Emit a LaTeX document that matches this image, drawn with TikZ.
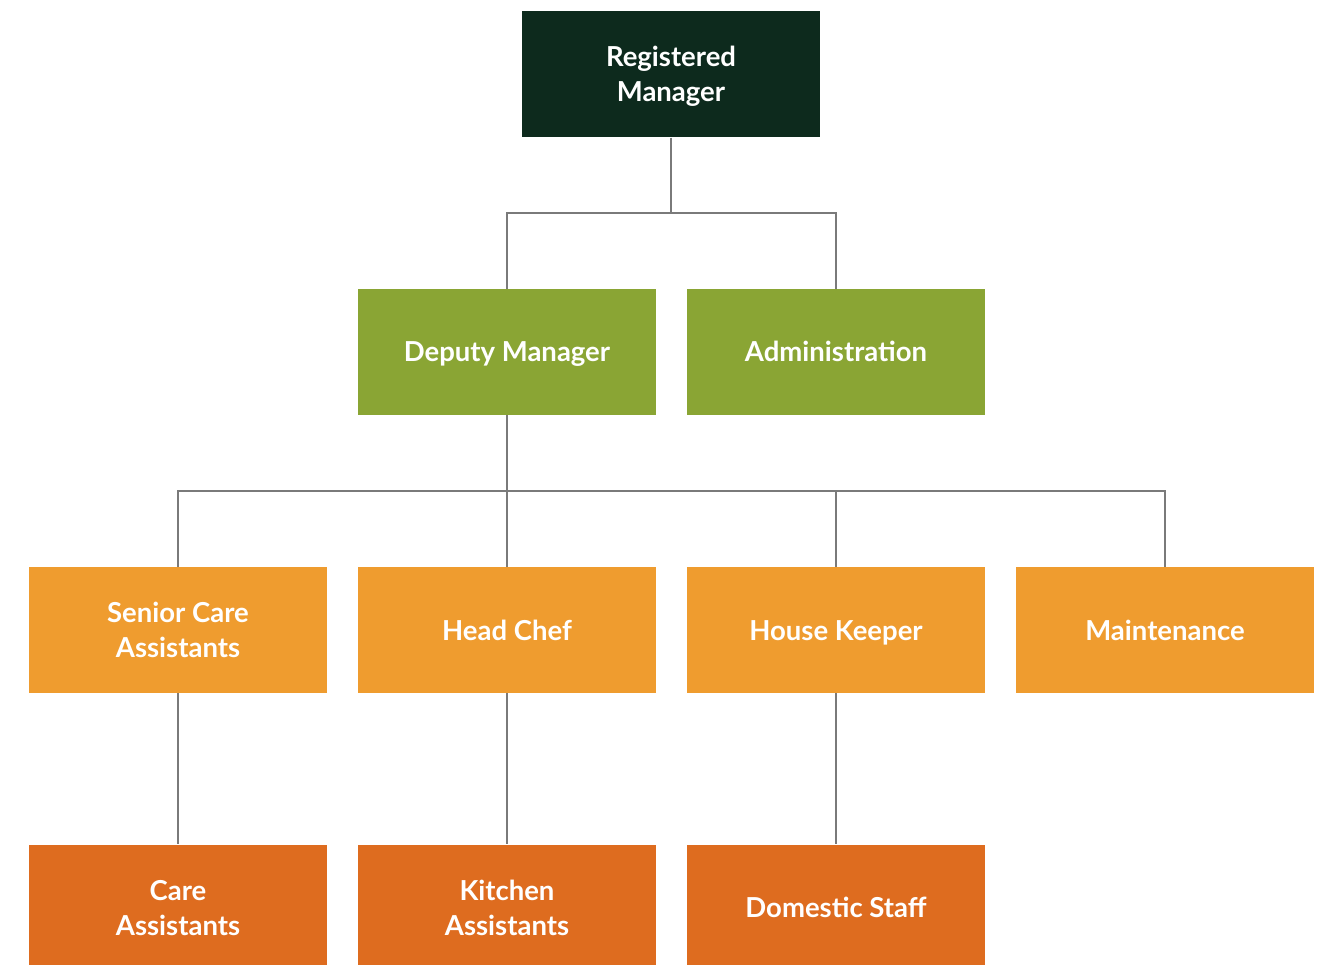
\documentclass[tikz,border=0pt]{standalone}
\usepackage{fontspec}
\setmainfont{Lato}
\definecolor{cdark}{HTML}{0D2A1D}
\definecolor{cgreen}{HTML}{8AA534}
\definecolor{corange}{HTML}{EF9C2F}
\definecolor{cdorange}{HTML}{DE6C1F}
\definecolor{cline}{HTML}{7A7A7A}
\begin{document}
\begin{tikzpicture}[x=1pt,y=-1pt,
  box/.style={minimum width=298pt,minimum height=126pt,inner sep=0pt,align=center,
    text=white,font=\bfseries\fontsize{27.5}{35}\selectfont,text height=20pt,text depth=0pt},
  two/.style={text height=55pt,text depth=0pt},
  lvla/.style={box,fill=cdark},
  lvlb/.style={box,fill=cgreen},
  lvlc/.style={box,fill=corange},
  lvld/.style={box,fill=cdorange},
  conn/.style={draw=cline,line width=1.3pt}]
\useasboundingbox (0,0) rectangle (1325,965);
\clip (0,0) rectangle (1325,965);
\node[lvla,two] (rm) at (671,74.5) {Registered\\Manager};
\node[lvlb] (dm) at (507,352) {Deputy Manager};
\node[lvlb] (ad) at (836,352) {Administration};
\node[lvlc,two] (sc) at (178,630) {Senior Care\\Assistants};
\node[lvlc] (hc) at (507,630) {Head Chef};
\node[lvlc] (hk) at (836,630) {House Keeper};
\node[lvlc] (mt) at (1165,630) {Maintenance};
\node[lvld,two] (ca) at (178,907.5) {Care\\Assistants};
\node[lvld,two] (ka) at (507,907.5) {Kitchen\\Assistants};
\node[lvld] (ds) at (836,907.5) {Domestic Staff};
\coordinate (j1) at (671,213);
\coordinate (j2) at (507,491);
\draw[conn] (rm.south) -- (j1);
\draw[conn] (dm.north) |- (j1) -| (ad.north);
\draw[conn] (dm.south) -- (hc.north);
\draw[conn] (sc.north) |- (j2) -| (mt.north);
\draw[conn] (j2) -| (hk.north);
\draw[conn] (sc.south) -- (ca.north);
\draw[conn] (hc.south) -- (ka.north);
\draw[conn] (hk.south) -- (ds.north);
\end{tikzpicture}
\end{document}
